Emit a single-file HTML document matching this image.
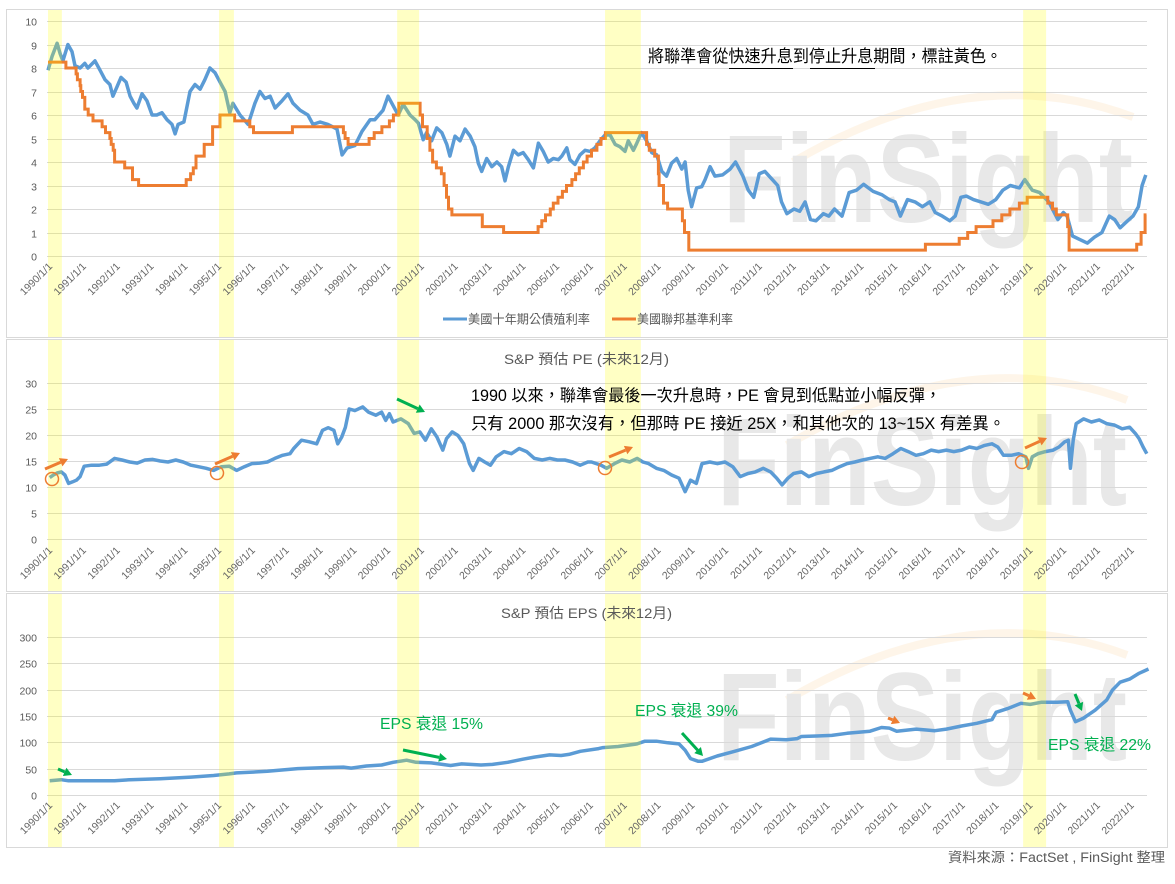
<!DOCTYPE html>
<html><head><meta charset="utf-8">
<style>
html,body{margin:0;padding:0;background:#fff;}
svg text{font-family:"Liberation Sans","Noto Sans CJK TC",sans-serif;}
</style></head>
<body>
<svg id="chart" width="1175" height="879" viewBox="0 0 1175 879" xmlns="http://www.w3.org/2000/svg">
<rect x="0" y="0" width="1175" height="879" fill="#fff"/>
<g id="panels"></g>
<g id="watermarks"></g>
<g id="grid"></g>
<g id="series"></g>
<g id="bands"></g>
<g id="axes"></g>
<g id="annot"></g>
</svg>
<script>
// ===== DATA =====
const years = [1990,1991,1992,1993,1994,1995,1996,1997,1998,1999,2000,2001,2002,2003,2004,2005,2006,2007,2008,2009,2010,2011,2012,2013,2014,2015,2016,2017,2018,2019,2020,2021,2022];
const topTicks = [0,1,2,3,4,5,6,7,8,9,10];
const peTicks = [0,5,10,15,20,25,30];
const epsTicks = [0,50,100,150,200,250,300];
const bandStart = [1990.0,1995.06,2000.33,2006.48,2018.85];
const bandEnd = [1990.41,1995.50,2000.98,2007.54,2019.53];

const tyDates = [1990.0,1990.12,1990.27,1990.36,1990.44,1990.59,1990.71,1990.8,1990.95,1991.09,1991.18,1991.39,1991.54,1991.69,1991.83,1991.92,1992.04,1992.16,1992.31,1992.43,1992.54,1992.63,1992.78,1992.93,1993.08,1993.22,1993.37,1993.52,1993.67,1993.76,1993.85,1994.02,1994.2,1994.35,1994.5,1994.64,1994.79,1994.94,1995.09,1995.24,1995.38,1995.47,1995.68,1995.92,1996.12,1996.27,1996.42,1996.57,1996.72,1996.92,1997.1,1997.25,1997.46,1997.69,1997.84,1998.05,1998.28,1998.55,1998.7,1998.85,1999.08,1999.29,1999.53,1999.67,1999.91,2000.06,2000.21,2000.36,2000.51,2000.71,2000.86,2000.96,2001.10,2001.20,2001.35,2001.50,2001.65,2001.80,2001.89,2002.04,2002.19,2002.34,2002.49,2002.63,2002.73,2002.83,2002.98,2003.13,2003.28,2003.42,2003.52,2003.62,2003.77,2003.91,2004.06,2004.21,2004.36,2004.51,2004.65,2004.80,2004.95,2005.10,2005.20,2005.35,2005.44,2005.59,2005.74,2005.89,2006.04,2006.18,2006.33,2006.48,2006.63,2006.78,2006.92,2007.07,2007.17,2007.32,2007.42,2007.56,2007.71,2007.86,2008.01,2008.16,2008.30,2008.45,2008.60,2008.75,2008.85,2008.94,2009.04,2009.19,2009.34,2009.44,2009.59,2009.73,2009.96,2010.18,2010.34,2010.56,2010.72,2010.88,2011.04,2011.21,2011.43,2011.59,2011.70,2011.86,2012.07,2012.24,2012.40,2012.56,2012.72,2012.94,2013.10,2013.27,2013.49,2013.70,2013.92,2014.13,2014.41,2014.68,2014.89,2015.06,2015.22,2015.43,2015.65,2015.87,2016.09,2016.25,2016.46,2016.68,2016.84,2017.01,2017.17,2017.38,2017.60,2017.82,2018.04,2018.25,2018.47,2018.74,2018.90,2019.12,2019.34,2019.61,2019.88,2020.04,2020.15,2020.31,2020.53,2020.75,2020.96,2021.18,2021.40,2021.56,2021.72,2021.94,2022.10,2022.26,2022.37,2022.48];
const tyValues = [7.9,8.5,9.05,8.6,8.3,9.0,8.7,8.1,8.0,8.2,8.0,8.3,7.9,7.5,7.3,6.8,7.2,7.6,7.4,6.8,6.5,6.3,6.9,6.6,6.0,6.0,6.1,5.8,5.6,5.2,5.6,5.7,7.0,7.3,7.1,7.5,8.0,7.8,7.4,7.0,6.1,6.5,6.0,5.6,6.5,7.0,6.7,6.8,6.3,6.6,6.9,6.5,6.2,6.0,5.6,5.7,5.6,5.4,4.3,4.6,4.7,5.3,5.8,5.8,6.2,6.8,6.4,6.0,6.45,6.0,5.8,5.65,4.95,5.25,4.9,5.45,5.25,4.75,4.25,5.1,4.9,5.4,5.1,4.65,3.95,3.6,4.15,3.8,4.0,3.8,3.2,3.8,4.5,4.3,4.4,4.1,3.75,4.8,4.45,4.0,4.15,4.1,4.25,4.6,4.1,3.9,4.3,4.5,4.45,4.6,4.9,5.15,5.15,4.75,4.65,4.45,4.9,4.5,4.8,5.25,4.9,4.4,4.3,3.6,3.4,3.95,4.15,3.7,4.0,2.8,2.1,2.9,2.95,3.25,3.8,3.4,3.45,3.7,4.0,3.4,2.8,2.5,3.5,3.6,3.25,3.0,2.3,1.8,2.0,1.9,2.3,1.55,1.5,1.8,1.7,2.0,1.7,2.7,2.8,3.05,2.75,2.6,2.4,2.3,1.7,2.4,2.3,2.1,2.3,1.85,1.7,1.5,1.7,2.5,2.55,2.4,2.3,2.2,2.4,2.8,3.0,2.9,3.25,2.8,2.7,2.3,1.55,1.85,1.7,0.85,0.7,0.55,0.8,1.0,1.7,1.55,1.2,1.5,1.7,2.1,3.0,3.45,2.9];

const fedDates = [1990.0,1990.53,1990.83,1990.87,1990.95,1990.97,1991.02,1991.09,1991.19,1991.33,1991.6,1991.7,1991.83,1991.87,1991.93,1991.97,1992.27,1992.5,1992.68,1994.09,1994.22,1994.3,1994.38,1994.62,1994.87,1995.09,1995.52,1995.97,1996.08,1997.23,1998.74,1998.79,1998.88,1999.5,1999.65,1999.88,2000.1,2000.22,2000.38,2001.01,2001.08,2001.22,2001.3,2001.38,2001.49,2001.64,2001.72,2001.79,2001.85,2001.95,2002.85,2003.48,2004.5,2004.61,2004.72,2004.86,2004.95,2005.09,2005.22,2005.34,2005.5,2005.61,2005.72,2005.84,2005.95,2006.08,2006.24,2006.36,2006.49,2007.71,2007.79,2007.95,2008.06,2008.08,2008.21,2008.33,2008.77,2008.83,2008.96,2015.96,2016.96,2017.21,2017.46,2017.96,2018.22,2018.46,2018.74,2018.97,2019.58,2019.72,2019.83,2020.17,2020.21,2022.21,2022.34,2022.46];
const fedRates = [8.25,8.0,7.75,7.5,7.25,7.0,6.75,6.25,6.0,5.75,5.5,5.25,5.0,4.75,4.5,4.0,3.75,3.25,3.0,3.25,3.5,3.75,4.25,4.75,5.5,6.0,5.75,5.5,5.25,5.5,5.25,5.0,4.75,5.0,5.25,5.5,5.75,6.0,6.5,6.0,5.5,5.0,4.5,4.0,3.75,3.5,3.0,2.5,2.0,1.75,1.25,1.0,1.25,1.5,1.75,2.0,2.25,2.5,2.75,3.0,3.25,3.5,3.75,4.0,4.25,4.5,4.75,5.0,5.25,4.75,4.5,4.25,3.5,3.0,2.25,2.0,1.5,1.0,0.25,0.5,0.75,1.0,1.25,1.5,1.75,2.0,2.25,2.5,2.25,2.0,1.75,1.25,0.25,0.5,1.0,1.75];
const fedEnd = 2022.5;

const peDates = [1990.05,1990.16,1990.27,1990.39,1990.50,1990.61,1990.73,1990.84,1990.95,1991.07,1991.29,1991.52,1991.74,1991.97,1992.19,1992.42,1992.64,1992.87,1993.10,1993.32,1993.55,1993.78,1994.00,1994.23,1994.45,1994.68,1994.90,1995.13,1995.36,1995.47,1995.58,1995.81,1996.03,1996.26,1996.49,1996.71,1996.94,1997.16,1997.27,1997.50,1997.73,1997.95,1998.12,1998.29,1998.46,1998.57,1998.69,1998.80,1998.91,1999.08,1999.31,1999.48,1999.70,1999.87,1999.99,2000.10,2000.21,2000.44,2000.66,2000.83,2001.00,2001.17,2001.34,2001.51,2001.68,2001.79,2001.96,2002.13,2002.30,2002.47,2002.58,2002.75,2002.92,2003.09,2003.26,2003.49,2003.71,2003.94,2004.16,2004.39,2004.62,2004.84,2005.07,2005.29,2005.52,2005.75,2005.97,2006.08,2006.36,2006.53,2006.76,2006.98,2007.21,2007.43,2007.60,2007.77,2008.00,2008.22,2008.45,2008.67,2008.85,2009.01,2009.18,2009.35,2009.58,2009.80,2010.03,2010.26,2010.48,2010.71,2010.93,2011.16,2011.38,2011.56,2011.72,2011.89,2012.06,2012.29,2012.51,2012.74,2012.96,2013.19,2013.42,2013.64,2013.87,2014.10,2014.32,2014.55,2014.77,2015.00,2015.23,2015.45,2015.68,2015.90,2016.13,2016.35,2016.58,2016.80,2017.03,2017.26,2017.48,2017.71,2017.93,2018.10,2018.27,2018.50,2018.72,2018.93,2019.01,2019.12,2019.29,2019.51,2019.74,2019.91,2020.08,2020.19,2020.25,2020.33,2020.42,2020.64,2020.87,2021.10,2021.32,2021.55,2021.78,2022.00,2022.17,2022.28,2022.40,2022.51];
const peValues = [11.8,12.3,12.7,12.9,12.3,10.7,11.0,11.3,12.0,14.0,14.2,14.2,14.4,15.5,15.2,14.8,14.6,15.2,15.3,15.0,14.8,15.2,14.8,14.2,13.9,13.6,13.2,13.9,14.0,13.6,13.2,13.9,14.5,14.6,14.8,15.5,16.1,16.4,17.4,19.0,18.7,18.3,20.9,21.4,20.9,18.3,19.6,21.5,25.0,24.7,25.4,24.4,23.8,24.4,22.8,24.1,22.5,23.1,22.2,20.3,20.6,19.0,21.2,19.6,17.1,19.3,20.6,19.9,18.3,14.5,13.2,15.5,14.8,14.2,15.8,16.8,16.4,17.4,16.8,15.5,15.2,15.5,15.2,15.2,14.8,14.2,14.8,14.8,14.2,13.6,14.5,15.2,14.8,15.5,14.8,14.5,13.6,13.2,12.3,11.7,9.1,11.3,10.7,14.5,14.8,14.5,14.8,13.9,12.0,12.6,12.9,13.6,12.9,11.7,10.4,11.7,12.6,12.9,12.0,12.6,12.9,13.2,13.9,14.5,14.8,15.2,15.5,15.8,15.5,16.4,17.4,16.8,16.1,16.4,17.1,16.8,17.1,16.8,17.1,17.7,17.4,18.0,18.3,17.7,16.1,16.1,16.4,15.8,13.6,15.8,16.4,16.8,17.1,17.7,18.7,19.0,13.6,19.0,22.2,23.1,22.5,22.9,22.2,21.9,21.2,21.5,20.3,19.3,17.7,16.4];

const epsDates = [1990.05,1990.39,1990.61,1991.07,1991.97,1992.42,1993.32,1994.23,1994.90,1995.36,1995.58,1996.49,1997.39,1998.18,1998.74,1998.97,1999.42,1999.87,2000.21,2000.61,2000.89,2001.34,2001.91,2002.24,2002.81,2003.15,2003.60,2004.05,2004.39,2004.84,2005.18,2005.41,2005.75,2006.29,2006.42,2006.87,2007.43,2007.66,2008.00,2008.34,2008.67,2008.85,2009.01,2009.24,2009.35,2009.80,2010.26,2010.82,2011.38,2011.84,2012.17,2012.29,2012.74,2013.19,2013.64,2014.32,2014.66,2014.89,2015.11,2015.68,2015.90,2016.24,2016.58,2017.03,2017.48,2017.93,2018.05,2018.39,2018.79,2019.06,2019.40,2019.86,2020.17,2020.25,2020.40,2020.64,2020.98,2021.32,2021.49,2021.72,2022.00,2022.28,2022.56];
const epsValues = [27,29,27,27,27,29,31,34,37,40,42,45,50,52,53,51,55,57,62,66,62,61,56,59,57,58,62,68,72,76,75,77,83,88,90,92,97,102,102,99,97,85,69,64,64,74,82,92,106,105,107,111,112,113,117,121,128,127,121,125,124,122,125,131,136,143,157,164,174,172,176,176,177,161,139,146,161,180,199,214,220,231,239];

// ===== HELPERS =====
const NS = 'http://www.w3.org/2000/svg';
function mk(tag, attrs, parent){ const e=document.createElementNS(NS,tag); for(const k in attrs) e.setAttribute(k,attrs[k]); parent.appendChild(e); return e; }
const X0 = 48, PXY = 33.8, XR = 1147, XL = 47;
function xS(t){ return X0 + (t-1990)*PXY; }
const panels = [
  {top:9,bottom:337, y:v=>256-v*23.5, ticks:topTicks, lab:267, name:'yield-panel'},
  {top:339,bottom:591, y:v=>539-v*5.2, ticks:peTicks, lab:551, name:'pe-panel'},
  {top:593,bottom:847, y:v=>795-v*0.527, ticks:epsTicks, lab:806, name:'eps-panel'}
];
const gP=document.getElementById('panels'), gW=document.getElementById('watermarks'), gG=document.getElementById('grid'),
      gS=document.getElementById('series'), gB=document.getElementById('bands'), gA=document.getElementById('axes'), gN=document.getElementById('annot');

panels.forEach((p,pi)=>{
  const r=mk('rect',{x:6.5,y:p.top+0.5,width:1161,height:p.bottom-p.top,fill:'none',stroke:'#d9d9d9','stroke-width':1},gP);
  
  
  const wy=[222,505,760][pi], wx=[723,717,717][pi];
  const arc=mk('path',{d:`M ${wx+70} ${wy-60} Q ${wx+250} ${wy-165} ${wx+410} ${wy-105}`,fill:'none',stroke:'#fdebd3','stroke-width':8,opacity:0.5},gW);
  
  
  const wt=mk('text',{x:wx,y:wy,'font-size':125,'font-weight':'bold',fill:'#e8e8e8',textLength:410,lengthAdjust:'spacingAndGlyphs'},gW);
  wt.textContent='FinSight';
  
  
  p.ticks.forEach(v=>{
    const yy=Math.round(p.y(v))+0.5;
    const l=mk('line',{x1:XL,x2:XR,y1:yy,y2:yy,stroke:'#d9d9d9','stroke-width':1},gG);
    
    
    const t=mk('text',{x:37,y:yy+4,'font-size':10.5,fill:'#595959','text-anchor':'end'},gA);
    t.textContent=String(v);
    
    
  });
  years.forEach(yr=>{
    const xx=xS(yr)+5;
    const t=mk('text',{x:0,y:0,'font-size':10.5,fill:'#666','text-anchor':'end',transform:`translate(${xx},${p.lab}) rotate(-45)`},gA);
    t.textContent=yr+'/1/1';
    
    
  });
  bandStart.forEach((b,i)=>{
    const x1=xS(b), x2=xS(bandEnd[i]);
    const r=mk('rect',{x:x1,y:p.top+1,width:x2-x1,height:p.bottom-p.top-1,fill:'rgb(255,255,0)','fill-opacity':0.23},gB);
    
    
  });
});

function linePath(ds,vs,yf){ return ds.map((d,i)=>(i?'L':'M')+xS(d).toFixed(1)+' '+yf(vs[i]).toFixed(1)).join(' '); }
let s=mk('path',{d:linePath(tyDates,tyValues,panels[0].y),fill:'none',stroke:'#5b9bd5','stroke-width':3.5,'stroke-linejoin':'round'},gS);


let d='';
fedDates.forEach((t,i)=>{
  const y=panels[0].y(fedRates[i]).toFixed(1), x=xS(t).toFixed(1);
  d += (i? ` H ${x} V ${y}` : `M ${x} ${y}`);
});
d += ` H ${xS(fedEnd).toFixed(1)}`;
s=mk('path',{d:d,fill:'none',stroke:'#ed7d31','stroke-width':3,'stroke-linejoin':'miter'},gS);


s=mk('path',{d:linePath(peDates,peValues,panels[1].y),fill:'none',stroke:'#5b9bd5','stroke-width':3.5,'stroke-linejoin':'round'},gS);


s=mk('path',{d:linePath(epsDates,epsValues,panels[2].y),fill:'none',stroke:'#5b9bd5','stroke-width':3.5,'stroke-linejoin':'round'},gS);



function arrow(x1,y1,x2,y2,col,name){
  const g=mk('g',{},gN);
  
  
  const a=Math.atan2(y2-y1,x2-x1), L=8, W=4.5;
  const bx=x2-L*Math.cos(a), by=y2-L*Math.sin(a);
  mk('line',{x1:x1,y1:y1,x2:bx,y2:by,stroke:col,'stroke-width':3},g);
  mk('polygon',{points:`${x2},${y2} ${bx-W*Math.sin(a)},${by+W*Math.cos(a)} ${bx+W*Math.sin(a)},${by-W*Math.cos(a)}`,fill:col},g);
}
const OR='#ed7d31', GR='#00b050';
arrow(45,469,68,459,OR,'pe-rebound-arrow-1990');
arrow(215,464,240,453,OR,'pe-rebound-arrow-1995');
arrow(609,457,633,447,OR,'pe-rebound-arrow-2007');
arrow(1025,448,1047,438,OR,'pe-rebound-arrow-2019');
arrow(397,399,425,412,GR,'pe-decline-arrow-2000');
[[52,479],[217,473],[605,468],[1022,462]].forEach(c=>{
  const e=mk('circle',{cx:c[0],cy:c[1],r:6.5,fill:'none',stroke:OR,'stroke-width':1.5},gN);
  
  
});
arrow(58,769,72,775,GR,'eps-arrow-1990');
arrow(403,750,447,759,GR,'eps-arrow-2001');
arrow(682,733,703,756,GR,'eps-arrow-2008');
arrow(888,718,900,723,OR,'eps-arrow-2015');
arrow(1023,693,1036,699,OR,'eps-arrow-2019');
arrow(1075,694,1082,711,GR,'eps-arrow-2020');
</script>
<svg style="position:absolute;left:0;top:0" width="1175" height="879" viewBox="0 0 1175 879">
  <g font-family="Liberation Sans, Noto Sans CJK TC, sans-serif">
  <text x="648" y="62" font-size="17" fill="#000" textLength="354" lengthAdjust="spacingAndGlyphs">將聯準會從快速升息到停止升息期間，標註黃色。</text>
  <line x1="729" y1="68.5" x2="793" y2="68.5" stroke="#000" stroke-width="1"/>
  <line x1="810" y1="68.5" x2="875" y2="68.5" stroke="#000" stroke-width="1"/>
  <line x1="443" y1="319" x2="467" y2="319" stroke="#5b9bd5" stroke-width="3"/>
  <text x="468" y="323.5" font-size="12.5" fill="#595959" textLength="122" lengthAdjust="spacingAndGlyphs">美國十年期公債殖利率</text>
  <line x1="612" y1="319" x2="636" y2="319" stroke="#ed7d31" stroke-width="3"/>
  <text x="637" y="323.5" font-size="12.5" fill="#595959" textLength="96" lengthAdjust="spacingAndGlyphs">美國聯邦基準利率</text>
  <text x="504" y="364" font-size="14" fill="#595959" textLength="165" lengthAdjust="spacingAndGlyphs">S&amp;P 預估 PE (未來12月)</text>
  <text x="471" y="401" font-size="16.5" fill="#000" textLength="470" lengthAdjust="spacingAndGlyphs">1990 以來，聯準會最後一次升息時，PE 會見到低點並小幅反彈，</text>
  <text x="471" y="429" font-size="16.5" fill="#000" textLength="534" lengthAdjust="spacingAndGlyphs">只有 2000 那次沒有，但那時 PE 接近 25X，和其他次的 13~15X 有差異。</text>
  <text x="501" y="618" font-size="14" fill="#595959" textLength="171" lengthAdjust="spacingAndGlyphs">S&amp;P 預估 EPS (未來12月)</text>
  <text x="380" y="729" font-size="16" fill="#00b050" textLength="103" lengthAdjust="spacingAndGlyphs">EPS 衰退 15%</text>
  <text x="635" y="716" font-size="16" fill="#00b050" textLength="103" lengthAdjust="spacingAndGlyphs">EPS 衰退 39%</text>
  <text x="1048" y="750" font-size="16" fill="#00b050" textLength="103" lengthAdjust="spacingAndGlyphs">EPS 衰退 22%</text>
  <text x="948" y="862" font-size="13.5" fill="#595959" textLength="217" lengthAdjust="spacingAndGlyphs">資料來源：FactSet , FinSight 整理</text>
  </g>
</svg>
</body></html>
